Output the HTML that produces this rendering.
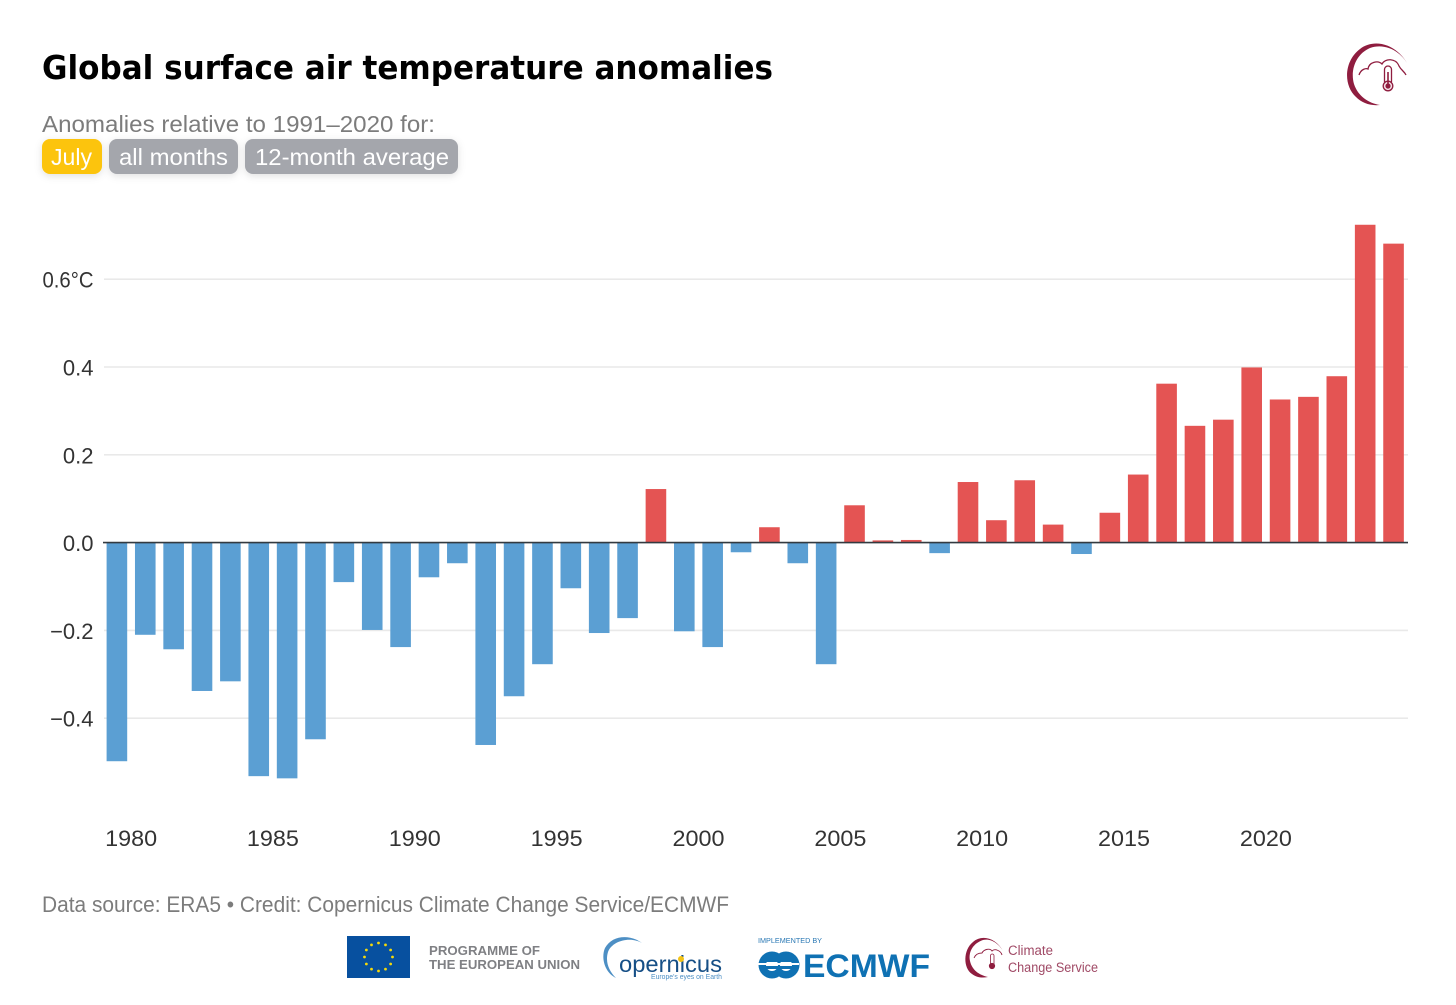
<!DOCTYPE html>
<html lang="en">
<head>
<meta charset="utf-8">
<title>Global surface air temperature anomalies</title>
<style>
html,body{margin:0;padding:0;background:#fff;}
body{width:1456px;height:1005px;overflow:hidden;position:relative;font-family:"Liberation Sans",sans-serif;}
svg{position:absolute;left:0;top:0;}
</style>
</head>
<body>
<svg id="chart" width="1456" height="1005" viewBox="0 0 1456 1005" xmlns="http://www.w3.org/2000/svg" font-family="'Liberation Sans',sans-serif">
  <defs>
    <filter id="chipShadow" x="-20%" y="-30%" width="140%" height="170%">
      <feDropShadow dx="0" dy="2" stdDeviation="4" flood-color="#000" flood-opacity="0.12"/>
    </filter>
  </defs>
  <rect width="1456" height="1005" fill="#fff"/>

  <text x="42" y="79" font-family="'DejaVu Sans',sans-serif" font-size="33" font-weight="700" fill="#000" textLength="731" lengthAdjust="spacingAndGlyphs">Global surface air temperature anomalies</text>
  <text x="42" y="132" font-size="23" fill="#7c7c7c" textLength="393" lengthAdjust="spacingAndGlyphs">Anomalies relative to 1991–2020 for:</text>

  <g>
    <g>
      <rect x="42" y="139" width="60" height="35" rx="8" fill="#fcc40a" filter="url(#chipShadow)"/>
      <text x="51" y="165" font-size="23" fill="#fff" textLength="41" lengthAdjust="spacingAndGlyphs">July</text>
    </g>
    <g>
      <rect x="109" y="139" width="129" height="35" rx="8" fill="#a4a6ac" filter="url(#chipShadow)"/>
      <text x="119" y="165" font-size="23" fill="#fff" textLength="109" lengthAdjust="spacingAndGlyphs">all months</text>
    </g>
    <g>
      <rect x="245" y="139" width="213" height="35" rx="8" fill="#a4a6ac" filter="url(#chipShadow)"/>
      <text x="255" y="165" font-size="23" fill="#fff" textLength="194" lengthAdjust="spacingAndGlyphs">12-month average</text>
    </g>
  </g>

  <g id="grid"></g>
  <g id="bars"></g>
  <line id="zero" stroke="#333a40" stroke-width="1.6"></line>
  <g id="xticks"></g>

  <text x="42" y="912" font-size="22" fill="#7c7c7c" textLength="687" lengthAdjust="spacingAndGlyphs">Data source: ERA5 • Credit: Copernicus Climate Change Service/ECMWF</text>

  <g fill="none" stroke="#8f1d3f">
    <path d="M1407 63 C1396 44 1374 38 1360 49 C1344 61 1343 85 1356 97 C1362 103 1370 106 1380 105 C1368 103 1358 96 1354 84 C1350 70 1356 54 1370 48 C1384 43 1399 50 1407 63 Z" fill="#8f1d3f" stroke="none"/>
    <path d="M1359 75 C1361 69 1366 68 1368 69 C1369 62 1378 60 1382 64 C1385 58 1396 58 1399 66 C1401 70 1404 71 1406 75" stroke-width="1.3"/>
    <rect x="1384.5" y="66" width="7" height="19" rx="3.5" fill="#fff" stroke-width="1.3"/>
    <circle cx="1388" cy="86" r="4.8" fill="#f3dfe5" stroke-width="1.3"/>
    <circle cx="1388" cy="86" r="2.6" fill="#8f1d3f" stroke="none"/>
    <line x1="1388" y1="72" x2="1388" y2="85" stroke-width="1.6"/>
  </g>

  <g>
    <rect x="347" y="936" width="63" height="42" fill="#07509f"/>
    <g id="euStars" fill="#f5d90a"></g>
    <text x="429" y="955" font-size="12.5" font-weight="700" fill="#7f8084" textLength="111" lengthAdjust="spacingAndGlyphs">PROGRAMME OF</text>
    <text x="429" y="969" font-size="12.5" font-weight="700" fill="#7f8084" textLength="151" lengthAdjust="spacingAndGlyphs">THE EUROPEAN UNION</text>
  </g>

  <g>
    <path d="M642 943 C630 934 612 935 605 948 C601 957 604 972 616 978 C609 971 605 962 608 952 C612 941 630 936 642 943 Z" fill="#4d8fc4"/>
    <text x="619" y="972" font-size="23" fill="#164f86" textLength="103" lengthAdjust="spacingAndGlyphs">opernicus</text>
    <circle cx="681" cy="959" r="3" fill="#f3c317"/>
    <text x="651" y="979" font-size="7.5" fill="#4d8fc4" textLength="71" lengthAdjust="spacingAndGlyphs">Europe's eyes on Earth</text>
  </g>

  <g>
    <text x="758" y="943" font-size="7" fill="#2a78b4" textLength="64" lengthAdjust="spacingAndGlyphs">IMPLEMENTED BY</text>
    <circle cx="772" cy="965" r="13.5" fill="#0f71b3"/>
    <circle cx="786" cy="965" r="13.5" fill="#0f71b3"/>
    <circle cx="772" cy="965" r="6" fill="#fff"/>
    <circle cx="786" cy="965" r="6" fill="#fff"/>
    <rect x="757" y="963" width="42" height="2" fill="#fff"/>
    <rect x="766" y="959" width="26" height="3" fill="#0f71b3"/>
    <rect x="766" y="966" width="26" height="3" fill="#0f71b3"/>
    <text x="803" y="977" font-size="32" font-weight="700" fill="#0f71b3" textLength="127" lengthAdjust="spacingAndGlyphs">ECMWF</text>
  </g>

  <g fill="none" stroke="#8f1d3f">
    <path d="M1003 951 C996 938 982 934 973 942 C963 950 963 968 972 974 C977 978 983 978 988 977 C979 975 972 970 970 961 C968 951 974 943 983 940 C991 938 999 944 1003 951 Z" fill="#8f1d3f" stroke="none"/>
    <path d="M974 958 C976 953 981 953 982 953 C984 949 990 948 992 951 C995 948 1001 951 1002 955" stroke-width="0.9"/>
    <rect x="990.5" y="954" width="3.5" height="12" rx="1.7" stroke-width="0.8"/>
    <circle cx="992" cy="966" r="2.8" fill="#8f1d3f" stroke-width="0.6"/>
    <text x="1008" y="955" font-size="13.5" fill="#a04a66" stroke="none" textLength="45" lengthAdjust="spacingAndGlyphs">Climate</text>
    <text x="1008" y="972" font-size="13.5" fill="#a04a66" stroke="none" textLength="90" lengthAdjust="spacingAndGlyphs">Change Service</text>
  </g>
</svg>

<script>
const years = [1979,1980,1981,1982,1983,1984,1985,1986,1987,1988,1989,1990,1991,1992,1993,1994,1995,1996,1997,1998,1999,2000,2001,2002,2003,2004,2005,2006,2007,2008,2009,2010,2011,2012,2013,2014,2015,2016,2017,2018,2019,2020,2021,2022,2023,2024];
const anomalies = [-0.498,-0.21,-0.243,-0.338,-0.316,-0.532,-0.537,-0.448,-0.09,-0.199,-0.238,-0.079,-0.047,-0.461,-0.35,-0.277,-0.104,-0.206,-0.172,0.122,-0.202,-0.238,-0.022,0.035,-0.047,-0.277,0.085,0.005,0.006,-0.024,0.138,0.051,0.142,0.041,-0.026,0.068,0.155,0.362,0.266,0.28,0.399,0.326,0.332,0.379,0.724,0.681];
const yTicks = [-0.4,-0.2,0,0.2,0.4,0.6];
const yTickLabels = ['−0.4','−0.2','0.0','0.2','0.4','0.6°C'];
const xTicks = [1980,1985,1990,1995,2000,2005,2010,2015,2020];

const NS = 'http://www.w3.org/2000/svg';
function yScale(v){ return 542.6 - v * 439; }
function xCenter(year){ return 116.9 + (year - 1979) * 28.37; }
function xTick(year){ return xCenter(year) - 14.185; }

const grid = document.getElementById('grid');
yTicks.forEach(function(t, i){
  const y = yScale(t);
  if (t !== 0) {
    const line = document.createElementNS(NS, 'line');
    
    
    line.setAttribute('x1', 104);
    line.setAttribute('x2', 1408);
    line.setAttribute('y1', y);
    line.setAttribute('y2', y);
    line.setAttribute('stroke', '#e9e9e9');
    line.setAttribute('stroke-width', '1.6');
    grid.appendChild(line);
  }
  const label = document.createElementNS(NS, 'text');
  
  
  label.setAttribute('x', 93.5);
  label.setAttribute('y', y + 8.5);
  label.setAttribute('text-anchor', 'end');
  label.setAttribute('font-size', '22');
  label.setAttribute('fill', '#333333');
  if (yTickLabels[i].length > 4) {
    label.setAttribute('textLength', '51');
    label.setAttribute('lengthAdjust', 'spacingAndGlyphs');
  }
  label.textContent = yTickLabels[i];
  grid.appendChild(label);
});

const bars = document.getElementById('bars');
const barWidth = 20.6;
years.forEach(function(year, i){
  const v = anomalies[i];
  const y0 = yScale(0);
  const y1 = yScale(v);
  const rect = document.createElementNS(NS, 'rect');
  
  
  rect.setAttribute('x', xCenter(year) - barWidth / 2);
  rect.setAttribute('width', barWidth);
  rect.setAttribute('y', Math.min(y0, y1));
  rect.setAttribute('height', Math.abs(y1 - y0));
  rect.setAttribute('fill', v < 0 ? '#5b9fd3' : '#e45453');
  bars.appendChild(rect);
});

const zero = document.getElementById('zero');
zero.setAttribute('x1', 103);
zero.setAttribute('x2', 1408);
zero.setAttribute('y1', yScale(0));
zero.setAttribute('y2', yScale(0));

const xticks = document.getElementById('xticks');
xTicks.forEach(function(year){
  const label = document.createElementNS(NS, 'text');
  
  
  label.setAttribute('x', xTick(year) - 26);
  label.setAttribute('y', 846);
  label.setAttribute('font-size', '22');
  label.setAttribute('fill', '#333333');
  label.setAttribute('textLength', '52');
  label.setAttribute('lengthAdjust', 'spacingAndGlyphs');
  label.textContent = String(year);
  xticks.appendChild(label);
});

const euStars = document.getElementById('euStars');
for (let k = 0; k < 12; k++) {
  const a = k * Math.PI / 6;
  const star = document.createElementNS(NS, 'circle');
  
  
  star.setAttribute('cx', 378.5 + 14 * Math.cos(a));
  star.setAttribute('cy', 957 + 14 * Math.sin(a));
  star.setAttribute('r', 1.4);
  euStars.appendChild(star);
}
</script>
</body>
</html>
